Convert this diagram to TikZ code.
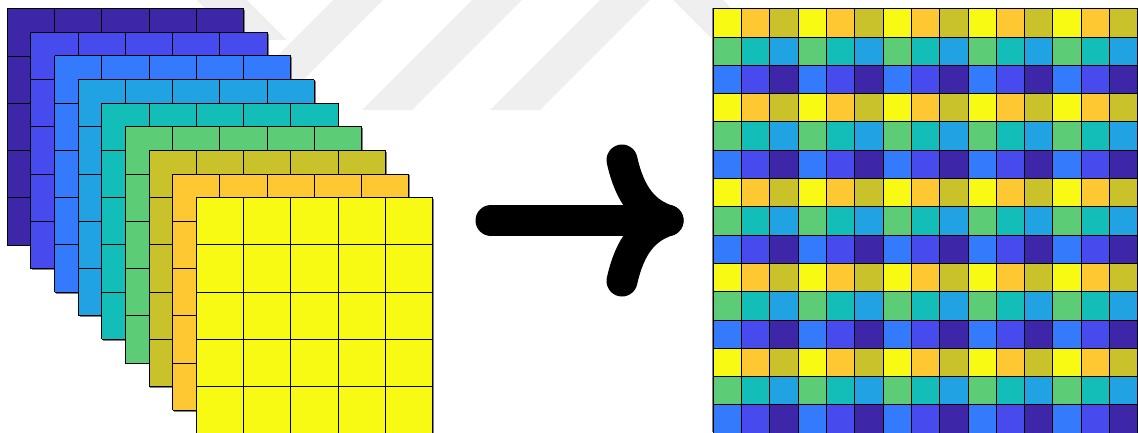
\documentclass[tikz,border=0pt]{standalone}
\definecolor{p1}{RGB}{62,38,168}
\definecolor{p2}{RGB}{71,74,236}
\definecolor{p3}{RGB}{51,122,253}
\definecolor{p4}{RGB}{33,162,227}
\definecolor{p5}{RGB}{19,190,185}
\definecolor{p6}{RGB}{92,204,119}
\definecolor{p7}{RGB}{201,194,43}
\definecolor{p8}{RGB}{254,200,50}
\definecolor{p9}{RGB}{249,250,20}
\definecolor{wm}{RGB}{239,239,239}
\tikzset{
  gl/.style={black, line width=0.9pt},
  shadowfill/.style={fill=black!50},
  wmark/.style={fill=wm},
  arrowstroke/.style={black, line width=31pt, line cap=round}
}
\begin{document}
\begin{tikzpicture}[x=1pt,y=-1pt]
\useasboundingbox (0,0) rectangle (1138,432);
% faint watermark stripes
\fill[wmark] (223,110) -- (273,110) -- (383,0) -- (333,0) -- cycle;
\fill[wmark] (362,110) -- (412,110) -- (522,0) -- (472,0) -- cycle;
\fill[wmark] (490,110) -- (540,110) -- (650,0) -- (600,0) -- cycle;
\fill[wmark] (197,0) -- (247,0) -- (287,40) -- (237,40) -- cycle;
\fill[wmark] (673,0) -- (723,0) -- (768,45) -- (718,45) -- cycle;
% stacked feature maps
\foreach \k/\c in {0/p1,1/p2,2/p3,3/p4,4/p5,5/p6,6/p7,7/p8,8/p9} {
  \pgfmathsetmacro\ox{7.3+\k*23.62}
  \pgfmathsetmacro\oy{8.7+\k*23.62}
  \fill[shadowfill] (\ox+1.4,\oy+1.4) rectangle ++(236.25,236.25);
  \fill[\c] (\ox,\oy) rectangle ++(236.25,236.25);
  \foreach \i in {0,...,5} {
    \draw[gl] (\ox+\i*47.25,\oy) -- ++(0,236.25);
    \draw[gl] (\ox,\oy+\i*47.25) -- ++(236.25,0);
  }
}
% arrow
\coordinate (start) at (491,220.5);
\coordinate (tip) at (668,220.5);
\coordinate (armtop) at (622,160);
\coordinate (armbot) at (622,281);
\draw[arrowstroke] (start) -- (tip);
\draw[arrowstroke] (armtop) .. controls (630,196) and (645,213) .. (tip);
\draw[arrowstroke] (armbot) .. controls (630,245) and (645,228) .. (tip);
% output grid (pixel shuffle)
\fill[shadowfill] (712,7.5) rectangle (1138,432);
\foreach \r in {0,...,14} {
  \foreach \c in {0,...,14} {
    \pgfmathtruncatemacro\n{9-3*mod(\r,3)-mod(\c,3)}
    \fill[p\n] (713.3+\c*28.3,8.7+\r*28.3) rectangle ++(28.3,28.3);
  }
}
\foreach \i in {0,...,15} {
  \draw[gl] (713.3+\i*28.3,8.7) -- ++(0,424.5);
  \draw[gl] (713.3,8.7+\i*28.3) -- ++(424.5,0);
}
\end{tikzpicture}
\end{document}
